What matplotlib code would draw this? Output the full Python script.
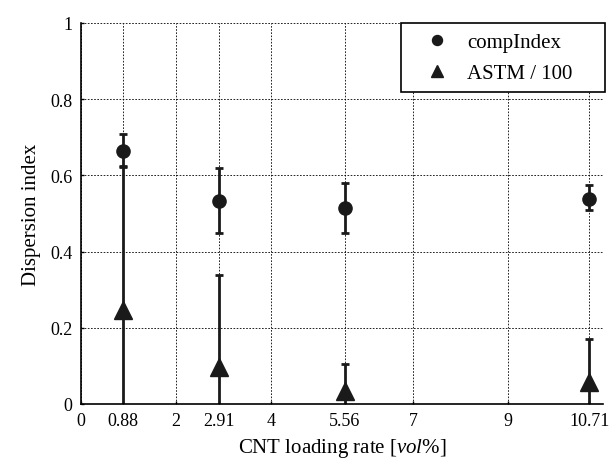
import matplotlib
matplotlib.use("Agg")
import matplotlib.pyplot as plt

# ----------------------------------
# Data
# ----------------------------------
loading = [0.88, 2.91, 5.56, 10.71]

comp_index = [0.663, 0.533, 0.514, 0.539]
comp_upper = [0.709, 0.620, 0.580, 0.574]
comp_lower = [0.623, 0.450, 0.450, 0.510]

astm = [0.247, 0.098, 0.034, 0.058]
astm_upper = [0.625, 0.339, 0.106, 0.171]

x_ticks = [0, 0.88, 2, 2.91, 4, 5.56, 7, 9, 10.71]
x_tick_labels = ["0", "0.88", "2", "2.91", "4", "5.56", "7", "9", "10.71"]
y_ticks = [0, 0.2, 0.4, 0.6, 0.8, 1]
y_tick_labels = ["0", "0.2", "0.4", "0.6", "0.8", "1"]

# ----------------------------------
# Style
# ----------------------------------
plt.rcParams["font.family"] = ["Liberation Serif", "DejaVu Serif"]
plt.rcParams["mathtext.fontset"] = "custom"
plt.rcParams["mathtext.rm"] = "Liberation Serif"
plt.rcParams["mathtext.it"] = "Liberation Serif:italic"

fig = plt.figure(figsize=(6.16, 4.6), dpi=100)
ax = fig.add_axes([0.1315, 0.1196, 0.8475, 0.8283])

# error bars (symmetric for ASTM, clipped at 0)
comp_err = [[c - l for c, l in zip(comp_index, comp_lower)],
            [u - c for c, u in zip(comp_index, comp_upper)]]
astm_err = [u - a for a, u in zip(astm, astm_upper)]

ax.errorbar(loading, comp_index, yerr=comp_err, fmt="none", ecolor="#1a1a1a",
            elinewidth=2, capsize=2.7, capthick=2, zorder=3)
ax.errorbar(loading, astm, yerr=astm_err, fmt="none", ecolor="#1a1a1a",
            elinewidth=2, capsize=2.7, capthick=2, zorder=3)

ax.plot(loading, comp_index, "o", color="#1a1a1a", markersize=9.5,
        label="compIndex", zorder=4)
ax.plot(loading, astm, "^", color="#1a1a1a", markersize=13,
        label="ASTM / 100", zorder=4)

ax.set_xlim(0, 11)
ax.set_ylim(0, 1)
ax.set_xticks(x_ticks)
ax.set_xticklabels(x_tick_labels)
ax.set_yticks(y_ticks)
ax.set_yticklabels(y_tick_labels)
ax.tick_params(direction="in", length=2.5, width=1, labelsize=13, pad=6)

ax.grid(True, color="black", linestyle=(0, (2, 1.8)), linewidth=0.6)
ax.set_axisbelow(True)

for side in ["top", "right"]:
    ax.spines[side].set_visible(False)
for side in ["left", "bottom"]:
    ax.spines[side].set_linewidth(1.2)
    ax.spines[side].set_zorder(5)

ax.set_xlabel("CNT loading rate [$\\mathit{vol}$%]", fontsize=15, labelpad=5)
ax.set_ylabel("Dispersion index", fontsize=15, labelpad=7)

leg = ax.legend(loc="upper left", bbox_to_anchor=(0.613, 0.0, 0.391, 1.0),
                mode="expand", fontsize=15, frameon=True, fancybox=False,
                edgecolor="black", framealpha=1, borderaxespad=0,
                handletextpad=0.15, borderpad=0.45, labelspacing=0.55,
                handlelength=2.56)
leg.get_frame().set_linewidth(1.2)
leg.legend_handles[0].set_markersize(7.2)
leg.legend_handles[1].set_markersize(8)

plt.savefig("out.png", dpi=100)
